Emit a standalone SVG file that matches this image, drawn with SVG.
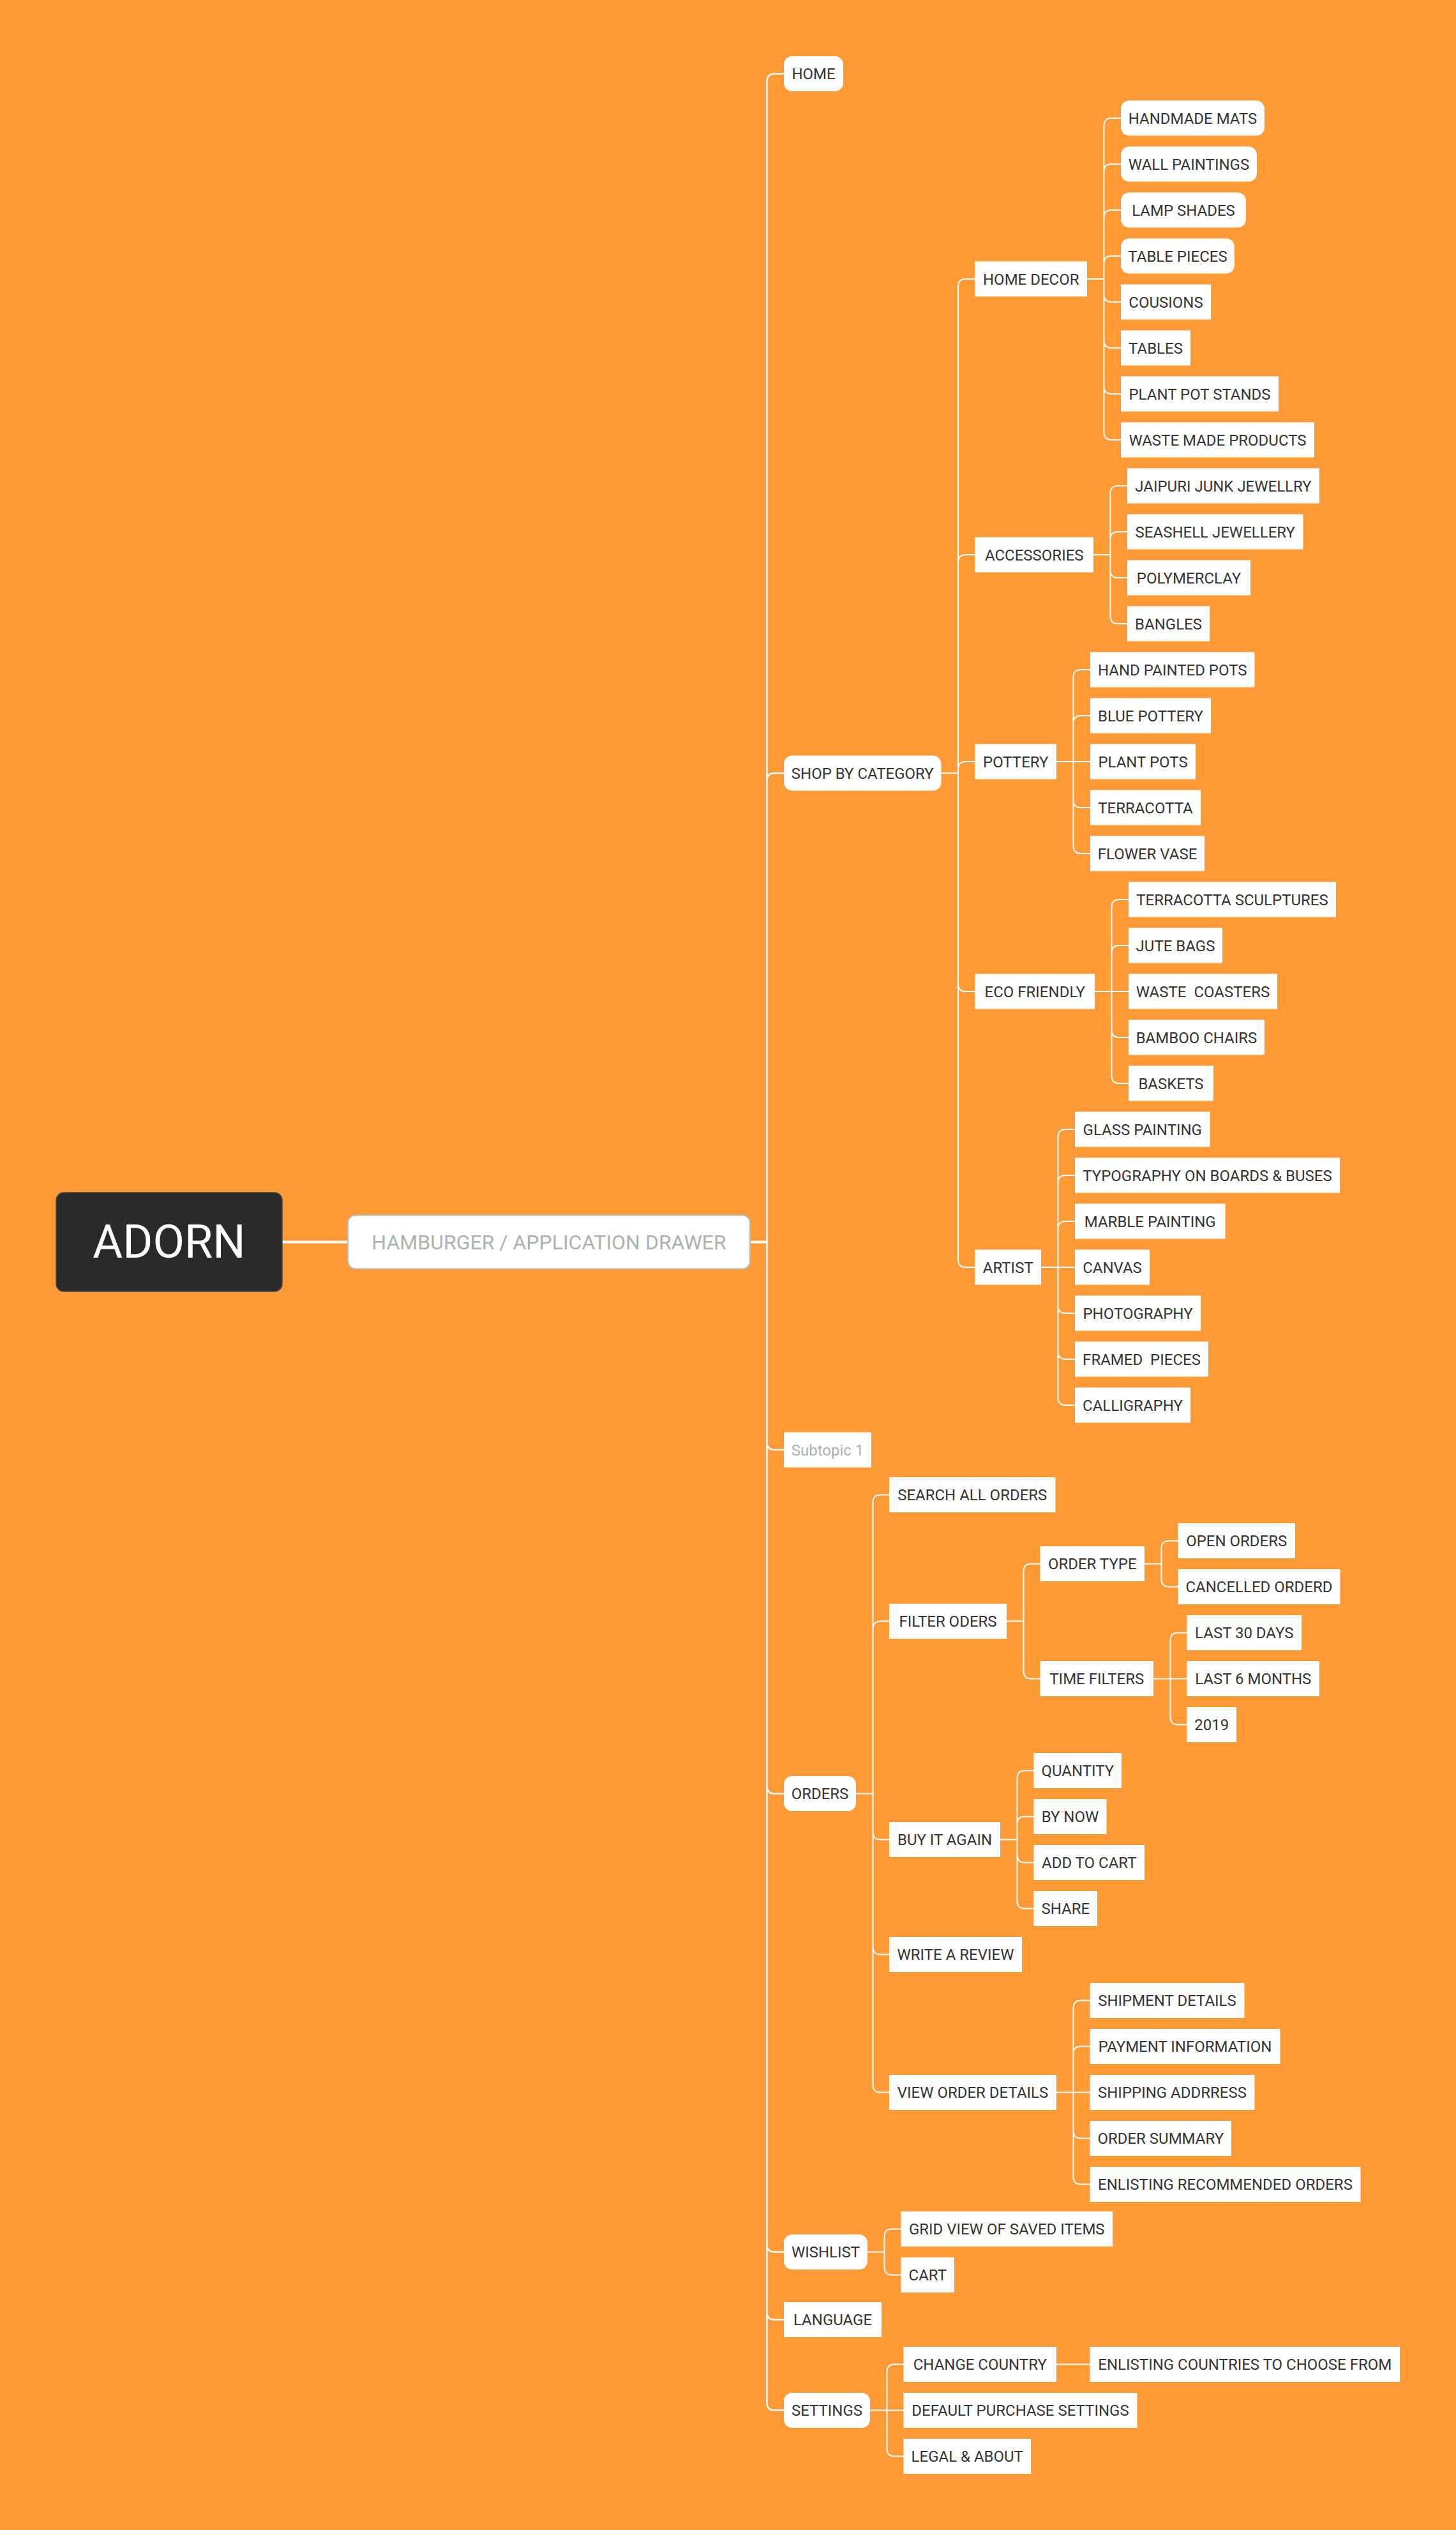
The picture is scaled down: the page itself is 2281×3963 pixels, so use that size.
<svg xmlns="http://www.w3.org/2000/svg" width="2281" height="3963" viewBox="0 0 2281 3963">
<style>
.bg{fill:#FF9A36}
.b{fill:#ffffff}
.t{font-family:Roboto,"Liberation Sans",sans-serif;font-size:24px;fill:#333333;text-anchor:middle;white-space:pre}
.g{fill:#A9B3B0}
.c{fill:none;stroke:#ffffff;stroke-width:2;stroke-linecap:round}
.c1{fill:none;stroke:#ffffff;stroke-width:2.5}
.c0{fill:none;stroke:#ffffff;stroke-width:4}
</style>
<rect class="bg" x="0" y="0" width="2281" height="3963"/>
<g id="connectors">
<path class="c0" d="M442 1945.5 H545 M1175 1945.5 H1201.5"/>
<path class="c1" d="M1201.5 1945.5 V127.5 Q1201.5 115.5 1213.5 115.5 H1228 M1201.5 1945.5 V1223 Q1201.5 1211 1213.5 1211 H1228 M1201.5 1945.5 V2259 Q1201.5 2271 1213.5 2271 H1228 M1201.5 1945.5 V2797.5 Q1201.5 2809.5 1213.5 2809.5 H1228 M1201.5 1945.5 V3515.5 Q1201.5 3527.5 1213.5 3527.5 H1228 M1201.5 1945.5 V3621.5 Q1201.5 3633.5 1213.5 3633.5 H1228 M1201.5 1945.5 V3763.5 Q1201.5 3775.5 1213.5 3775.5 H1228"/>
<path class="c" d="M1474.5 1211 H1501 V449 Q1501 437 1513 437 H1527.5 M1501 1211 V881 Q1501 869 1513 869 H1527.5 M1501 1211 V1205 Q1501 1193 1513 1193 H1527.5 M1501 1211 V1541 Q1501 1553 1513 1553 H1527.5 M1501 1211 V1973 Q1501 1985 1513 1985 H1527.5"/>
<path class="c" d="M1703 437 H1729.5 V197 Q1729.5 185 1741.5 185 H1756 M1729.5 437 V269 Q1729.5 257 1741.5 257 H1756 M1729.5 437 V341 Q1729.5 329 1741.5 329 H1756 M1729.5 437 V413 Q1729.5 401 1741.5 401 H1756 M1729.5 437 V461 Q1729.5 473 1741.5 473 H1756 M1729.5 437 V533 Q1729.5 545 1741.5 545 H1756 M1729.5 437 V605 Q1729.5 617 1741.5 617 H1756 M1729.5 437 V677 Q1729.5 689 1741.5 689 H1756"/>
<path class="c" d="M1713 869 H1739.5 V773 Q1739.5 761 1751.5 761 H1766 M1739.5 869 V845 Q1739.5 833 1751.5 833 H1766 M1739.5 869 V893 Q1739.5 905 1751.5 905 H1766 M1739.5 869 V965 Q1739.5 977 1751.5 977 H1766"/>
<path class="c" d="M1655 1193 H1708 M1681.5 1193 V1061 Q1681.5 1049 1693.5 1049 H1708 M1681.5 1193 V1133 Q1681.5 1121 1693.5 1121 H1708 M1681.5 1193 V1253 Q1681.5 1265 1693.5 1265 H1708 M1681.5 1193 V1325 Q1681.5 1337 1693.5 1337 H1708"/>
<path class="c" d="M1715 1553 H1768 M1741.5 1553 V1421 Q1741.5 1409 1753.5 1409 H1768 M1741.5 1553 V1493 Q1741.5 1481 1753.5 1481 H1768 M1741.5 1553 V1613 Q1741.5 1625 1753.5 1625 H1768 M1741.5 1553 V1685 Q1741.5 1697 1753.5 1697 H1768"/>
<path class="c" d="M1631 1985 H1684 M1657.5 1985 V1781 Q1657.5 1769 1669.5 1769 H1684 M1657.5 1985 V1853 Q1657.5 1841 1669.5 1841 H1684 M1657.5 1985 V1925 Q1657.5 1913 1669.5 1913 H1684 M1657.5 1985 V2045 Q1657.5 2057 1669.5 2057 H1684 M1657.5 1985 V2117 Q1657.5 2129 1669.5 2129 H1684 M1657.5 1985 V2189 Q1657.5 2201 1669.5 2201 H1684"/>
<path class="c" d="M1341 2809.5 H1367.5 V2353.5 Q1367.5 2341.5 1379.5 2341.5 H1393 M1367.5 2809.5 V2551.5 Q1367.5 2539.5 1379.5 2539.5 H1393 M1367.5 2809.5 V2869.5 Q1367.5 2881.5 1379.5 2881.5 H1393 M1367.5 2809.5 V3049.5 Q1367.5 3061.5 1379.5 3061.5 H1393 M1367.5 2809.5 V3265.5 Q1367.5 3277.5 1379.5 3277.5 H1393"/>
<path class="c" d="M1577 2539.5 H1603.5 V2461.5 Q1603.5 2449.5 1615.5 2449.5 H1629.5 M1603.5 2539.5 V2617.5 Q1603.5 2629.5 1615.5 2629.5 H1629.5"/>
<path class="c" d="M1793 2449.5 H1819.5 V2425.5 Q1819.5 2413.5 1831.5 2413.5 H1845.5 M1819.5 2449.5 V2473.5 Q1819.5 2485.5 1831.5 2485.5 H1845.5"/>
<path class="c" d="M1807 2629.5 H1859.5 M1833.5 2629.5 V2569.5 Q1833.5 2557.5 1845.5 2557.5 H1859.5 M1833.5 2629.5 V2689.5 Q1833.5 2701.5 1845.5 2701.5 H1859.5"/>
<path class="c" d="M1567 2881.5 H1593.5 V2785.5 Q1593.5 2773.5 1605.5 2773.5 H1619.5 M1593.5 2881.5 V2857.5 Q1593.5 2845.5 1605.5 2845.5 H1619.5 M1593.5 2881.5 V2905.5 Q1593.5 2917.5 1605.5 2917.5 H1619.5 M1593.5 2881.5 V2977.5 Q1593.5 2989.5 1605.5 2989.5 H1619.5"/>
<path class="c" d="M1655 3277.5 H1707.5 M1681.5 3277.5 V3145.5 Q1681.5 3133.5 1693.5 3133.5 H1707.5 M1681.5 3277.5 V3217.5 Q1681.5 3205.5 1693.5 3205.5 H1707.5 M1681.5 3277.5 V3337.5 Q1681.5 3349.5 1693.5 3349.5 H1707.5 M1681.5 3277.5 V3409.5 Q1681.5 3421.5 1693.5 3421.5 H1707.5"/>
<path class="c" d="M1359 3527.5 H1385.5 V3503.5 Q1385.5 3491.5 1397.5 3491.5 H1411.5 M1385.5 3527.5 V3551.5 Q1385.5 3563.5 1397.5 3563.5 H1411.5"/>
<path class="c" d="M1363 3775.5 H1415.5 M1389.5 3775.5 V3715.5 Q1389.5 3703.5 1401.5 3703.5 H1415.5 M1389.5 3775.5 V3835.5 Q1389.5 3847.5 1401.5 3847.5 H1415.5"/>
<path class="c" d="M1655 3703.5 H1707.5"/>
</g>
<g id="n-adorn"><rect x="88" y="1868" width="354" height="155" rx="12" fill="#2a2a2a" stroke="#4a4a4a" stroke-width="1.5"/><text x="265" y="1970" font-family="Roboto,'Liberation Sans',sans-serif" font-size="72" fill="#ffffff" text-anchor="middle">ADORN</text></g>
<g id="n-hamburger"><rect x="545" y="1903.5" width="630" height="84" rx="12" fill="#ffffff" stroke="#b4bcba" stroke-width="2"/><text x="860" y="1957" font-family="Roboto,'Liberation Sans',sans-serif" font-size="32" fill="#AAB3B0" text-anchor="middle">HAMBURGER / APPLICATION DRAWER</text></g>
<g id="n-home"><rect class="b" x="1228" y="88" width="93" height="55" rx="13"/><text class="t" x="1274.5" y="124">HOME</text></g>
<g id="n-shop"><rect class="b" x="1228" y="1183.5" width="246.5" height="55" rx="13"/><text class="t" x="1351.25" y="1219.5">SHOP BY CATEGORY</text></g>
<g id="n-subtopic"><rect class="b" x="1228" y="2243.5" width="137" height="55"/><text class="t g" x="1296.5" y="2279.5">Subtopic 1</text></g>
<g id="n-orders"><rect class="b" x="1228" y="2782" width="113" height="55" rx="13"/><text class="t" x="1284.5" y="2818">ORDERS</text></g>
<g id="n-wishlist"><rect class="b" x="1228" y="3500" width="131" height="55" rx="13"/><text class="t" x="1293.5" y="3536">WISHLIST</text></g>
<g id="n-language"><rect class="b" x="1228" y="3606" width="153" height="55"/><text class="t" x="1304.5" y="3642">LANGUAGE</text></g>
<g id="n-settings"><rect class="b" x="1228" y="3748" width="135" height="55" rx="13"/><text class="t" x="1295.5" y="3784">SETTINGS</text></g>
<g id="n-homedecor"><rect class="b" x="1527.5" y="409.5" width="175.5" height="55"/><text class="t" x="1615.25" y="445.5">HOME DECOR</text></g>
<g id="n-accessories"><rect class="b" x="1527.5" y="841.5" width="185.5" height="55"/><text class="t" x="1620.25" y="877.5">ACCESSORIES</text></g>
<g id="n-pottery"><rect class="b" x="1527.5" y="1165.5" width="127.5" height="55"/><text class="t" x="1591.25" y="1201.5">POTTERY</text></g>
<g id="n-eco"><rect class="b" x="1527.5" y="1525.5" width="187.5" height="55"/><text class="t" x="1621.25" y="1561.5">ECO FRIENDLY</text></g>
<g id="n-artist"><rect class="b" x="1527.5" y="1957.5" width="103.5" height="55"/><text class="t" x="1579.25" y="1993.5">ARTIST</text></g>
<g id="n-handmade"><rect class="b" x="1756" y="157.5" width="225" height="55" rx="13"/><text class="t" x="1868.5" y="193.5">HANDMADE MATS</text></g>
<g id="n-wall"><rect class="b" x="1756" y="229.5" width="213" height="55" rx="13"/><text class="t" x="1862.5" y="265.5">WALL PAINTINGS</text></g>
<g id="n-lamp"><rect class="b" x="1756" y="301.5" width="196" height="55" rx="13"/><text class="t" x="1854" y="337.5">LAMP SHADES</text></g>
<g id="n-tablepieces"><rect class="b" x="1756" y="373.5" width="178" height="55" rx="13"/><text class="t" x="1845" y="409.5">TABLE PIECES</text></g>
<g id="n-cousions"><rect class="b" x="1756" y="445.5" width="141" height="55"/><text class="t" x="1826.5" y="481.5">COUSIONS</text></g>
<g id="n-tables"><rect class="b" x="1756" y="517.5" width="109" height="55"/><text class="t" x="1810.5" y="553.5">TABLES</text></g>
<g id="n-plantpotstands"><rect class="b" x="1756" y="589.5" width="247" height="55"/><text class="t" x="1879.5" y="625.5">PLANT POT STANDS</text></g>
<g id="n-wastemade"><rect class="b" x="1756" y="661.5" width="303" height="55"/><text class="t" x="1907.5" y="697.5">WASTE MADE PRODUCTS</text></g>
<g id="n-jaipuri"><rect class="b" x="1766" y="733.5" width="301" height="55"/><text class="t" x="1916.5" y="769.5">JAIPURI JUNK JEWELLRY</text></g>
<g id="n-seashell"><rect class="b" x="1766" y="805.5" width="275.5" height="55"/><text class="t" x="1903.75" y="841.5">SEASHELL JEWELLERY</text></g>
<g id="n-polymer"><rect class="b" x="1766" y="877.5" width="193" height="55"/><text class="t" x="1862.5" y="913.5">POLYMERCLAY</text></g>
<g id="n-bangles"><rect class="b" x="1766" y="949.5" width="129" height="55"/><text class="t" x="1830.5" y="985.5">BANGLES</text></g>
<g id="n-handpainted"><rect class="b" x="1708" y="1021.5" width="257.5" height="55"/><text class="t" x="1836.75" y="1057.5">HAND PAINTED POTS</text></g>
<g id="n-bluepottery"><rect class="b" x="1708" y="1093.5" width="189" height="55"/><text class="t" x="1802.5" y="1129.5">BLUE POTTERY</text></g>
<g id="n-plantpots"><rect class="b" x="1708" y="1165.5" width="165" height="55"/><text class="t" x="1790.5" y="1201.5">PLANT POTS</text></g>
<g id="n-terracotta"><rect class="b" x="1708" y="1237.5" width="173" height="55"/><text class="t" x="1794.5" y="1273.5">TERRACOTTA</text></g>
<g id="n-flowervase"><rect class="b" x="1708" y="1309.5" width="179" height="55"/><text class="t" x="1797.5" y="1345.5">FLOWER VASE</text></g>
<g id="n-sculptures"><rect class="b" x="1768" y="1381.5" width="325" height="55"/><text class="t" x="1930.5" y="1417.5">TERRACOTTA SCULPTURES</text></g>
<g id="n-jute"><rect class="b" x="1768" y="1453.5" width="147" height="55"/><text class="t" x="1841.5" y="1489.5">JUTE BAGS</text></g>
<g id="n-coasters"><rect class="b" x="1768" y="1525.5" width="233" height="55"/><text class="t" x="1884.5" y="1561.5">WASTE  COASTERS</text></g>
<g id="n-bamboo"><rect class="b" x="1768" y="1597.5" width="213" height="55"/><text class="t" x="1874.5" y="1633.5">BAMBOO CHAIRS</text></g>
<g id="n-baskets"><rect class="b" x="1768" y="1669.5" width="133" height="55"/><text class="t" x="1834.5" y="1705.5">BASKETS</text></g>
<g id="n-glass"><rect class="b" x="1684" y="1741.5" width="211.5" height="55"/><text class="t" x="1789.75" y="1777.5">GLASS PAINTING</text></g>
<g id="n-typography"><rect class="b" x="1684" y="1813.5" width="415" height="55"/><text class="t" x="1891.5" y="1849.5">TYPOGRAPHY ON BOARDS &amp; BUSES</text></g>
<g id="n-marble"><rect class="b" x="1684" y="1885.5" width="235.5" height="55"/><text class="t" x="1801.75" y="1921.5">MARBLE PAINTING</text></g>
<g id="n-canvas"><rect class="b" x="1684" y="1957.5" width="117" height="55"/><text class="t" x="1742.5" y="1993.5">CANVAS</text></g>
<g id="n-photography"><rect class="b" x="1684" y="2029.5" width="197" height="55"/><text class="t" x="1782.5" y="2065.5">PHOTOGRAPHY</text></g>
<g id="n-framed"><rect class="b" x="1684" y="2101.5" width="209" height="55"/><text class="t" x="1788.5" y="2137.5">FRAMED  PIECES</text></g>
<g id="n-calligraphy"><rect class="b" x="1684" y="2173.5" width="181" height="55"/><text class="t" x="1774.5" y="2209.5">CALLIGRAPHY</text></g>
<g id="n-search"><rect class="b" x="1393" y="2314" width="260.5" height="55"/><text class="t" x="1523.25" y="2350">SEARCH ALL ORDERS</text></g>
<g id="n-filter"><rect class="b" x="1393" y="2512" width="184" height="55"/><text class="t" x="1485" y="2548">FILTER ODERS</text></g>
<g id="n-buy"><rect class="b" x="1393" y="2854" width="174" height="55"/><text class="t" x="1480" y="2890">BUY IT AGAIN</text></g>
<g id="n-write"><rect class="b" x="1393" y="3034" width="208" height="55"/><text class="t" x="1497" y="3070">WRITE A REVIEW</text></g>
<g id="n-view"><rect class="b" x="1393" y="3250" width="262" height="55"/><text class="t" x="1524" y="3286">VIEW ORDER DETAILS</text></g>
<g id="n-ordertype"><rect class="b" x="1629.5" y="2422" width="163.5" height="55"/><text class="t" x="1711.25" y="2458">ORDER TYPE</text></g>
<g id="n-timefilters"><rect class="b" x="1629.5" y="2602" width="177.5" height="55"/><text class="t" x="1718.25" y="2638">TIME FILTERS</text></g>
<g id="n-open"><rect class="b" x="1845.5" y="2386" width="183.5" height="55"/><text class="t" x="1937.25" y="2422">OPEN ORDERS</text></g>
<g id="n-cancelled"><rect class="b" x="1845.5" y="2458" width="254" height="55"/><text class="t" x="1972.5" y="2494">CANCELLED ORDERD</text></g>
<g id="n-last30"><rect class="b" x="1859.5" y="2530" width="179.5" height="55"/><text class="t" x="1949.25" y="2566">LAST 30 DAYS</text></g>
<g id="n-last6"><rect class="b" x="1859.5" y="2602" width="207.5" height="55"/><text class="t" x="1963.25" y="2638">LAST 6 MONTHS</text></g>
<g id="n-2019"><rect class="b" x="1859.5" y="2674" width="77.5" height="55"/><text class="t" x="1898.25" y="2710">2019</text></g>
<g id="n-quantity"><rect class="b" x="1619.5" y="2746" width="137.5" height="55"/><text class="t" x="1688.25" y="2782">QUANTITY</text></g>
<g id="n-bynow"><rect class="b" x="1619.5" y="2818" width="114" height="55"/><text class="t" x="1676.5" y="2854">BY NOW</text></g>
<g id="n-addtocart"><rect class="b" x="1619.5" y="2890" width="173.5" height="55"/><text class="t" x="1706.25" y="2926">ADD TO CART</text></g>
<g id="n-share"><rect class="b" x="1619.5" y="2962" width="99.5" height="55"/><text class="t" x="1669.25" y="2998">SHARE</text></g>
<g id="n-shipment"><rect class="b" x="1707.5" y="3106" width="242" height="55"/><text class="t" x="1828.5" y="3142">SHIPMENT DETAILS</text></g>
<g id="n-payment"><rect class="b" x="1707.5" y="3178" width="298" height="55"/><text class="t" x="1856.5" y="3214">PAYMENT INFORMATION</text></g>
<g id="n-shipping"><rect class="b" x="1707.5" y="3250" width="258" height="55"/><text class="t" x="1836.5" y="3286">SHIPPING ADDRRESS</text></g>
<g id="n-summary"><rect class="b" x="1707.5" y="3322" width="221.5" height="55"/><text class="t" x="1818.25" y="3358">ORDER SUMMARY</text></g>
<g id="n-enlistrec"><rect class="b" x="1707.5" y="3394" width="424" height="55"/><text class="t" x="1919.5" y="3430">ENLISTING RECOMMENDED ORDERS</text></g>
<g id="n-grid"><rect class="b" x="1411.5" y="3464" width="331.5" height="55"/><text class="t" x="1577.25" y="3500">GRID VIEW OF SAVED ITEMS</text></g>
<g id="n-cart"><rect class="b" x="1411.5" y="3536" width="83.5" height="55"/><text class="t" x="1453.25" y="3572">CART</text></g>
<g id="n-change"><rect class="b" x="1415.5" y="3676" width="239.5" height="55"/><text class="t" x="1535.25" y="3712">CHANGE COUNTRY</text></g>
<g id="n-default"><rect class="b" x="1415.5" y="3748" width="366" height="55"/><text class="t" x="1598.5" y="3784">DEFAULT PURCHASE SETTINGS</text></g>
<g id="n-legal"><rect class="b" x="1415.5" y="3820" width="199.5" height="55"/><text class="t" x="1515.25" y="3856">LEGAL &amp; ABOUT</text></g>
<g id="n-countries"><rect class="b" x="1707.5" y="3676" width="485.5" height="55"/><text class="t" x="1950.25" y="3712">ENLISTING COUNTRIES TO CHOOSE FROM</text></g>
</svg>
